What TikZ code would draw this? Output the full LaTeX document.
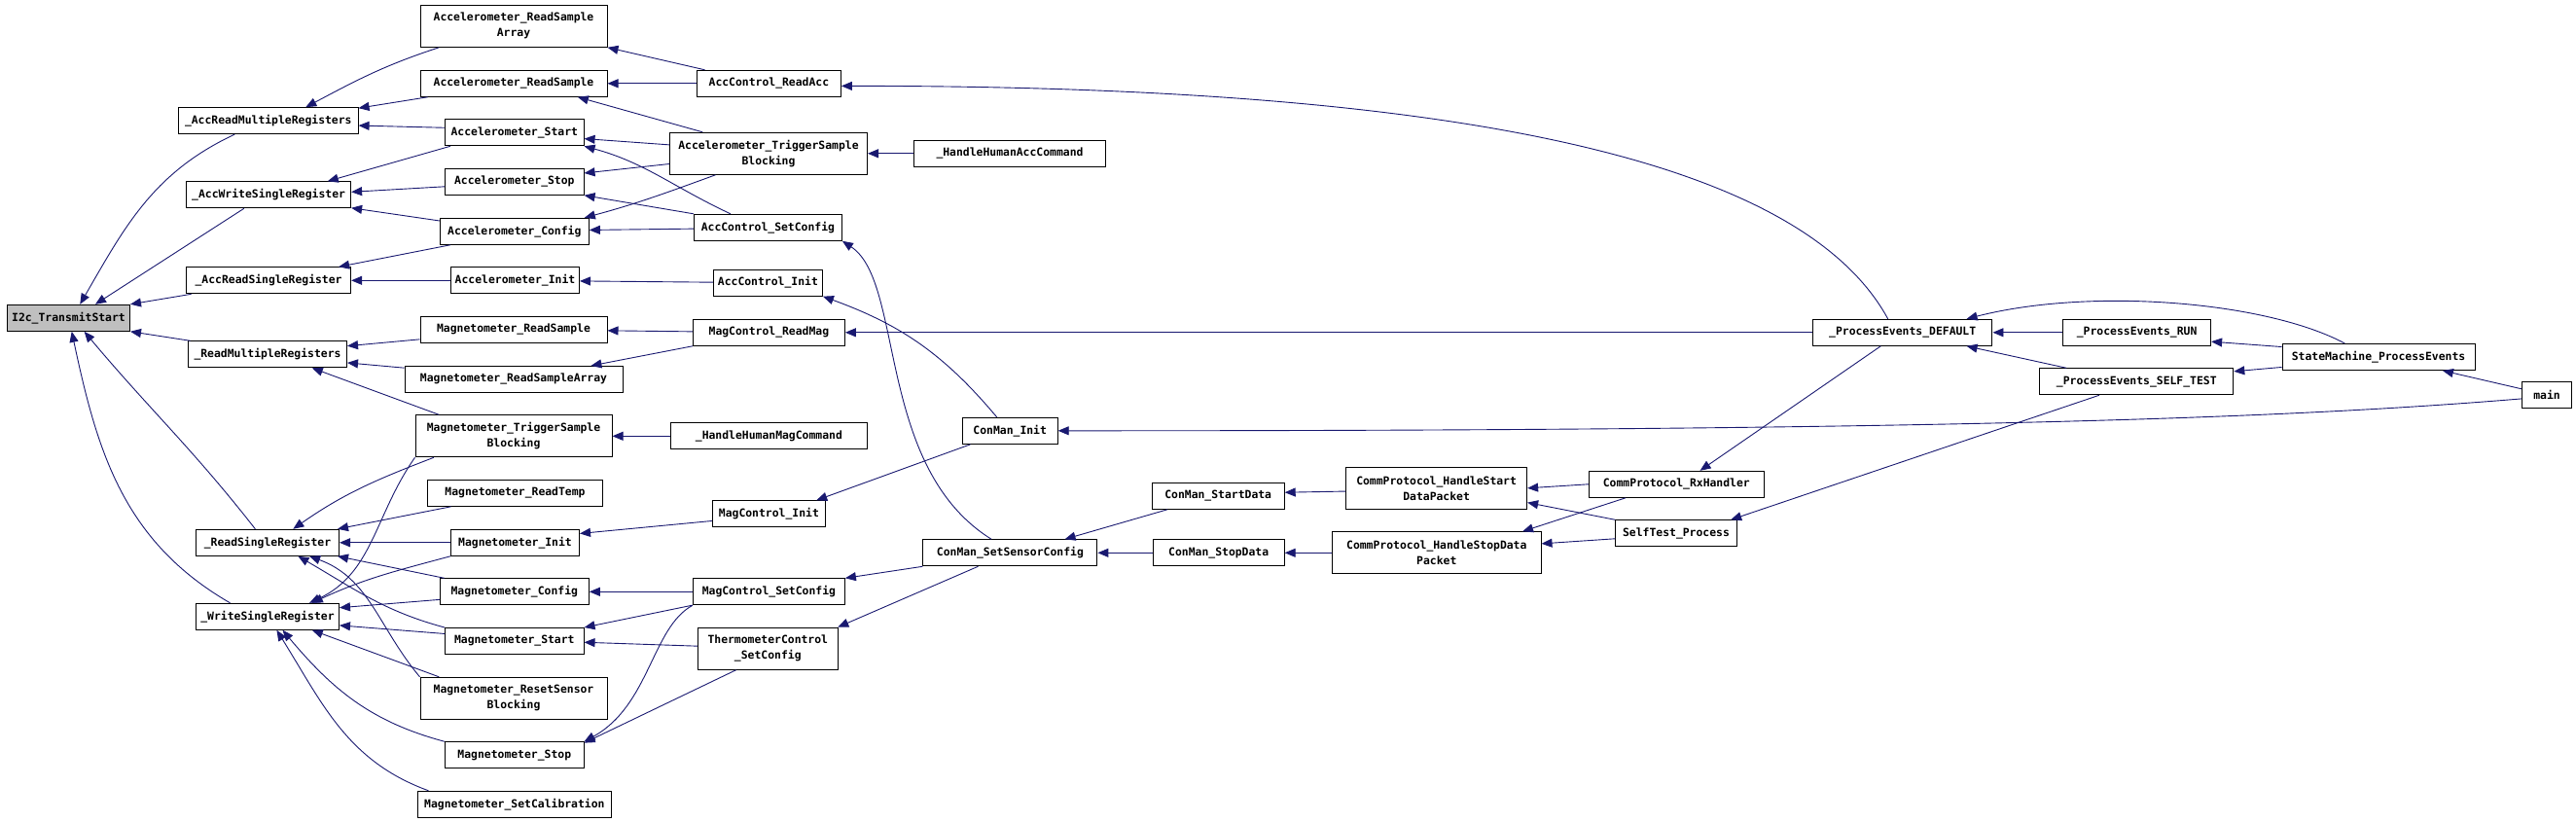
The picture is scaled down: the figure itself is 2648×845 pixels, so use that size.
\documentclass[tikz,border=0pt]{standalone}
\usepackage{fontspec}
\newfontfamily\graphfont{DejaVu Sans Mono}
\usetikzlibrary{arrows.meta}
\definecolor{edgeblue}{RGB}{25,25,112}
\definecolor{rootgray}{RGB}{191,191,191}
\newcommand{\callbox}[4]{\node[fnbox,minimum width=#3pt] (#1) at (#2) {#4}}
\newcommand{\callboxtwo}[4]{\node[fnbox,minimum width=#3pt,minimum height=43pt] (#1) at (#2) {#4}}

\begin{document}
\begin{tikzpicture}[x=1pt,y=-1pt,
	fnbox/.style={draw,line width=1pt,fill=white,minimum height=27pt,inner sep=0pt,align=center,font=\graphfont\bfseries\fontsize{11.4pt}{16pt}\selectfont},
	call/.style={draw=edgeblue,line width=0.9pt,-{Triangle[length=11pt,width=9pt]}}]
	\useasboundingbox (0,0) rectangle (2648,845);
	\node[fnbox,fill=rootgray,minimum width=126pt] (i2c) at (70.5,326.8) {I2c\_TransmitStart};
	\callbox{armr}{275.8,124.2}{184.5}{\_AccReadMultipleRegisters};
	\callbox{awsr}{276.1,200.3}{169}{\_AccWriteSingleRegister};
	\callbox{arsr}{276.1,288.3}{169}{\_AccReadSingleRegister};
	\callbox{rmr}{275,364.3}{163}{\_ReadMultipleRegisters};
	\callbox{rsr}{275,557.8}{147}{\_ReadSingleRegister};
	\callbox{wsr}{275,633.8}{147}{\_WriteSingleRegister};
	\callboxtwo{accrsa}{528,26.8}{192}{Accelerometer\_ReadSample\\Array};
	\callbox{accrs}{528,85.8}{192}{Accelerometer\_ReadSample};
	\callbox{accstart}{528.8,136.3}{142.5}{Accelerometer\_Start};
	\callbox{accstop}{528.8,186.8}{142.5}{Accelerometer\_Stop};
	\callbox{accconfig}{528.8,237.8}{153}{Accelerometer\_Config};
	\callbox{accinit}{529.5,288.3}{132}{Accelerometer\_Init};
	\callbox{magrs}{528,338.7}{192}{Magnetometer\_ReadSample};
	\callbox{magrsa}{528,390}{224}{Magnetometer\_ReadSampleArray};
	\callboxtwo{magtsb}{528,448.3}{202}{Magnetometer\_TriggerSample\\Blocking};
	\callbox{magtemp}{529.5,506.8}{180}{Magnetometer\_ReadTemp};
	\callbox{maginit}{529.5,557.8}{132}{Magnetometer\_Init};
	\callbox{magconfig}{528.8,608.3}{153}{Magnetometer\_Config};
	\callbox{magstart}{528.8,659}{142.5}{Magnetometer\_Start};
	\callboxtwo{magreset}{528,717.8}{192}{Magnetometer\_ResetSensor\\Blocking};
	\callbox{magstop}{528.8,776.3}{142.5}{Magnetometer\_Stop};
	\callbox{magcal}{528.9,826.8}{199}{Magnetometer\_SetCalibration};
	\callbox{readacc}{790.4,85.8}{148}{AccControl\_ReadAcc};
	\callboxtwo{acctsb}{790,157.8}{203}{Accelerometer\_TriggerSample\\Blocking};
	\callbox{accsetcfg}{789.4,233.8}{152}{AccControl\_SetConfig};
	\callbox{accctlinit}{789.4,290.7}{112}{AccControl\_Init};
	\callbox{readmag}{790.4,341.8}{156}{MagControl\_ReadMag};
	\callbox{hhmag}{790.4,448.3}{202}{\_HandleHumanMagCommand};
	\callbox{magctlinit}{790.4,528.3}{115.5}{MagControl\_Init};
	\callbox{magsetcfg}{790.4,608.3}{156}{MagControl\_SetConfig};
	\callboxtwo{thermo}{789.3,666.7}{144}{ThermometerControl\\\_SetConfig};
	\callbox{hhacc}{1038,157.8}{197}{\_HandleHumanAccCommand};
	\callbox{cminit}{1038.2,442.8}{98}{ConMan\_Init};
	\callbox{cmsetsensor}{1038.4,568.3}{179}{ConMan\_SetSensorConfig};
	\callbox{cmstart}{1252.2,509.8}{136}{ConMan\_StartData};
	\callbox{cmstop}{1252.7,568.3}{135}{ConMan\_StopData};
	\callboxtwo{hstart}{1476.6,501.8}{186}{CommProtocol\_HandleStart\\DataPacket};
	\callboxtwo{hstop}{1476.8,568.3}{214.4}{CommProtocol\_HandleStopData\\Packet};
	\callbox{rxh}{1723.3,497.8}{180}{CommProtocol\_RxHandler};
	\callbox{selftest}{1723,548.3}{124.4}{SelfTest\_Process};
	\callbox{pedef}{1955.7,341.8}{184.5}{\_ProcessEvents\_DEFAULT};
	\callbox{perun}{2196.6,341.8}{152}{\_ProcessEvents\_RUN};
	\callbox{peself}{2196.3,392.3}{199}{\_ProcessEvents\_SELF\_TEST};
	\callbox{smpe}{2445,367}{198}{StateMachine\_ProcessEvents};
	\callbox{main}{2618,405.8}{51}{main};
	\draw[call] (armr.202) to[out=205,in=60] (i2c.50);
	\draw[call] (awsr.209) -- (i2c.27);
	\draw[call] (arsr.190) -- (i2c.north east);
	\draw[call] (rmr.170) -- (i2c.south east);
	\draw[call] (rsr.132) to[out=128,in=-50] (i2c.-41);
	\draw[call] (wsr.160) to[out=150,in=-78] (i2c.-77);
	\draw[call] (accrsa.196) to[out=198,in=28] (armr.20);
	\draw[call] (accrs.189) -- (armr.8);
	\draw[call] (accstart.176) -- (armr.-3);
	\draw[call] (accstart.192) -- (awsr.13);
	\draw[call] (accstop.184) -- (awsr.2);
	\draw[call] (accconfig.172) -- (awsr.-9);
	\draw[call] (accconfig.192) -- (arsr.11);
	\draw[call] (accinit) -- (arsr);
	\draw[call] (magrs.186) -- (rmr.6);
	\draw[call] (magrsa.174) -- (rmr.-6);
	\draw[call] (magtsb.164) -- (rmr.-17);
	\draw[call] (magtsb.195) to[out=201,in=35] (rsr.28);
	\draw[call] (magtemp.192) -- (rsr.11);
	\draw[call] (maginit) -- (rsr);
	\draw[call] (magconfig.169) -- (rsr.-11);
	\draw[call] (magstart.north west) to[out=165,in=-30] (rsr.-24);
	\draw[call] (magreset.north west) to[out=130,in=-20] (rsr.-18);
	\draw[call] (magtsb.south west) to[out=235,in=25] (wsr.18);
	\draw[call] (maginit.south west) to[out=195,in=25] (wsr.17);
	\draw[call] (magconfig.186) -- (wsr.7);
	\draw[call] (magstart.174) -- (wsr.-7);
	\draw[call] (magreset.164) -- (wsr.-17);
	\draw[call] (magstop.north west) to[out=165,in=-50] (wsr.-42);
	\draw[call] (magcal.171) to[out=160,in=-58] (wsr.-56);
	\draw[call] (readacc.168) -- (accrsa.south east);
	\draw[call] (readacc) -- (accrs);
	\draw[call] (acctsb.162) -- (accrs.-12);
	\draw[call] (acctsb.175) -- (accstart.-5);
	\draw[call] (accsetcfg.160) to[out=155,in=-15] (accstart.south east);
	\draw[call] (acctsb.186) -- (accstop.7);
	\draw[call] (accsetcfg.north west) -- (accstop.south east);
	\draw[call] (acctsb.202) to[out=200,in=15] (accconfig.11);
	\draw[call] (accsetcfg.181) -- (accconfig.1);
	\draw[call] (accctlinit) -- (accinit);
	\draw[call] (readmag) -- (magrs);
	\draw[call] (readmag.south west) -- (magrsa.10);
	\draw[call] (hhmag) -- (magtsb);
	\draw[call] (magctlinit.187) -- (maginit.8);
	\draw[call] (magsetcfg) -- (magconfig);
	\draw[call] (magsetcfg.190) -- (magstart.north east);
	\draw[call] (thermo.178) -- (magstart.-1);
	\draw[call] (magsetcfg.south west) .. controls (670,645) and (668,725) .. (magstop.north east);
	\draw[call] (thermo.214) -- (magstop.10);
	\draw[call] (hhacc) -- (acctsb);
	\draw[call] (pedef.137) .. controls (1860,180) and (1560,88) .. (readacc.-2);
	\draw[call] (cmsetsensor.144) .. controls (900,480) and (930,290) .. (accsetcfg.south east);
	\draw[call] (cminit.134) to[out=130,in=-20] (accctlinit.south east);
	\draw[call] (pedef) -- (readmag);
	\draw[call] (cminit.199) -- (magctlinit.16);
	\draw[call] (cmsetsensor.south west) -- (magsetcfg.north east);
	\draw[call] (cmsetsensor.203) -- (thermo.17);
	\draw[call] (cmstart.195) -- (cmsetsensor.14);
	\draw[call] (cmstop) -- (cmsetsensor);
	\draw[call] (hstart.182) -- (cmstart.3);
	\draw[call] (hstop) -- (cmstop);
	\draw[call] (main.189) .. controls (2350,430) and (2000,443) .. (cminit.east);
	\draw[call] (rxh.west) -- (hstart.east);
	\draw[call] (selftest.north west) -- (hstart.-9);
	\draw[call] (rxh.195) -- (hstop.14);
	\draw[call] (selftest.185) -- (hstop.5);
	\draw[call] (pedef.212) -- (rxh.30);
	\draw[call] (peself.200) -- (selftest.14);
	\draw[call] (perun) -- (pedef);
	\draw[call] (peself.169) -- (pedef.-12);
	\draw[call] (smpe.158) .. controls (2330,310) and (2150,295) .. (pedef.12);
	\draw[call] (smpe.174) -- (perun.-7);
	\draw[call] (smpe.186) -- (peself.6);
	\draw[call] (main.167) -- (smpe.-12);
\end{tikzpicture}
\end{document}
